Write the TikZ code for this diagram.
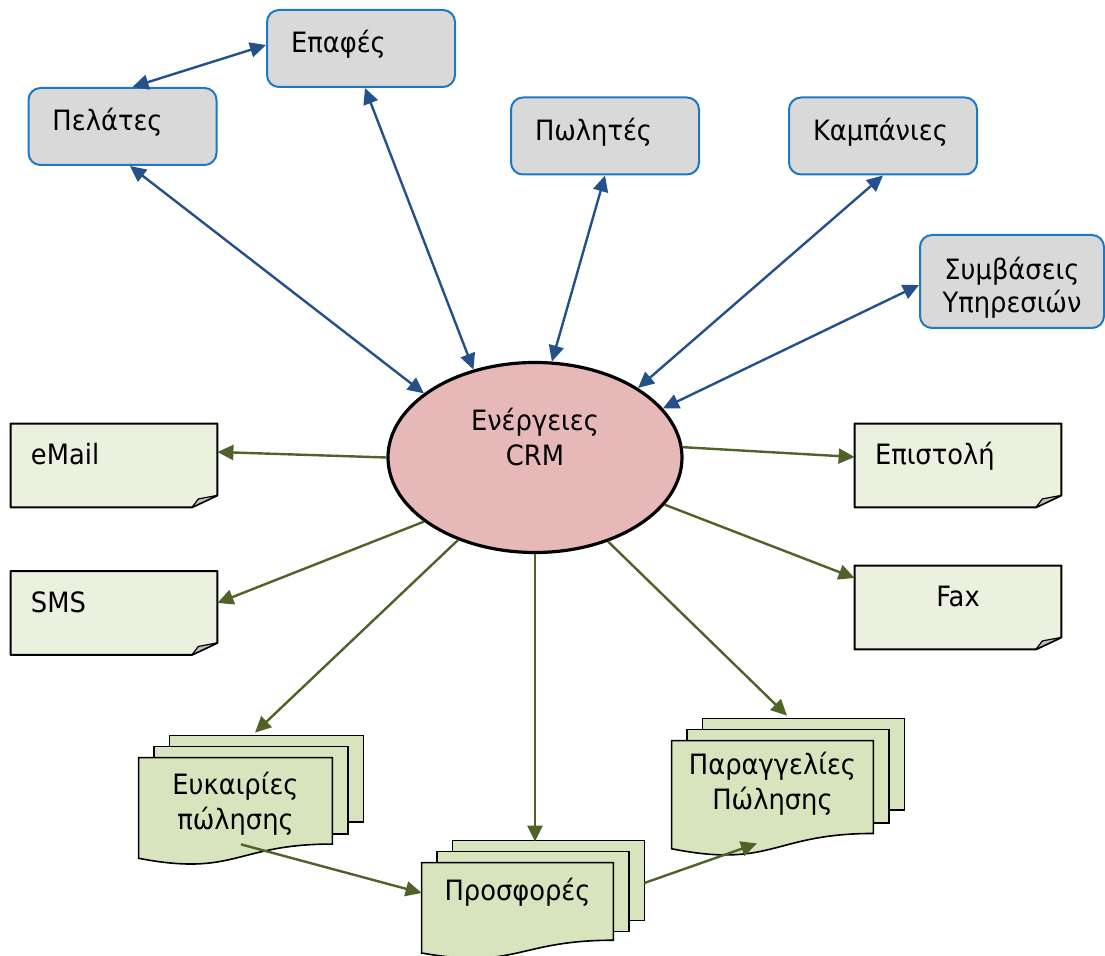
\documentclass[tikz,border=0pt]{standalone}
\usepackage{fontspec}
\setmainfont{DejaVu Sans}[FakeStretch=0.92]
\usepackage{xcolor}
\definecolor{boxgray}{HTML}{D9D9D9}
\definecolor{boxblue}{HTML}{1F78C4}
\definecolor{linkblue}{HTML}{24508C}
\definecolor{linkgreen}{HTML}{4F6228}
\definecolor{notegreen}{HTML}{EBF1DE}
\definecolor{stackgreen}{HTML}{D7E4BD}
\definecolor{crmpink}{HTML}{E6B9B8}
\definecolor{foldgray}{HTML}{C0C0C0}
\usetikzlibrary{arrows.meta,shapes.geometric,calc,backgrounds}
\newcommand{\crmfont}{\fontsize{14}{17.5}\selectfont}
\tikzset{
  topbox/.style={
    rectangle, rounded corners=6pt, draw=boxblue, line width=1pt,
    fill=boxgray, text width=70pt, inner xsep=12pt, inner ysep=0pt,
    minimum height=38.5pt, align=left, text height=11pt, text depth=6.5pt,
    font=\crmfont
  },
  notebox/.style={
    rectangle, inner xsep=10pt, inner ysep=0pt, text width=83pt,
    minimum height=41.5pt, align=left, text height=11pt, text depth=11.5pt,
    font=\crmfont
  },
  stackbox/.style={
    rectangle, inner sep=0pt, align=center, text height=11pt, font=\crmfont
  },
  crmnode/.style={
    ellipse, draw=black, line width=1.6pt, fill=crmpink,
    minimum width=147pt, minimum height=95pt, inner sep=0pt,
    align=center, text height=28.5pt, text depth=20pt, font=\crmfont
  },
  noteline/.style={draw=black, line width=1pt, line join=bevel, fill=notegreen},
  foldline/.style={draw=black, line width=0.6pt, line join=bevel, fill=foldgray},
  stackline/.style={draw=black, line width=0.8pt, fill=stackgreen},
  bluelink/.style={{Triangle[length=8pt,width=7.5pt]}-{Triangle[length=8pt,width=7.5pt]}, line width=1.2pt, draw=linkblue},
  greenlink/.style={-{Triangle[length=8pt,width=7.5pt]}, line width=1.2pt, draw=linkgreen}
}
% sheet with a folded corner
\newcommand{\notesheet}[1]{%
  \draw[noteline] (#1.north west) -- (#1.north east) -- ([yshift=6pt]#1.south east)
    -- ([xshift=-12.75pt]#1.south east) -- (#1.south west) -- cycle;
  \draw[foldline] ([xshift=-12.75pt]#1.south east) -- ([yshift=6pt]#1.south east)
    -- ([xshift=-9.5pt,yshift=4.25pt]#1.south east) -- cycle;
}
% three stacked sheets, wavy front
\newcommand{\stacksheet}[1]{%
  \draw[stackline] ($(#1.north west)+(15.5pt,11pt)$) rectangle ($(#1.south east)!0.4!(#1.north east)+(15.5pt,0pt)$);
  \draw[stackline] ($(#1.north west)+(7.75pt,5.5pt)$) rectangle ($(#1.south east)!0.29!(#1.north east)+(7.75pt,0pt)$);
  \draw[stackline] (#1.north west) -- (#1.north east) -- ($(#1.south east)!0.198!(#1.north east)$)
    .. controls ($(#1.south)!0.198!(#1.north)$) and ($(#1.south)!-0.1075!(#1.north)$)
    .. ($(#1.south west)!0.066!(#1.north west)$) -- cycle;
}

\begin{document}
\begin{tikzpicture}[x=0.5pt,y=-0.5pt]
  \useasboundingbox (0,0) rectangle (1105,956);

  % Center
  \node[crmnode] (crm) at (535,457.5) {Ενέργειες\\CRM};

  % Top boxes
  \node[topbox] (epa) at (361,48.5) {Επαφές};
  \node[topbox] (pel) at (122.5,126.5) {Πελάτες};
  \node[topbox] (pwl) at (605,136) {Πωλητές};
  \node[topbox] (kam) at (883,136) {Καμπάνιες};
  \node[topbox, text width=76pt, inner xsep=8pt, minimum height=46.5pt,
    align=center, text depth=12.5pt, font=\fontsize{14}{16.5}\selectfont]
    (sym) at (1012,281.5) {Συμβάσεις\\Υπηρεσιών};

  % Notes, left and right
  \node[notebox] (mail) at (114,465.5) {eMail};
  \node[notebox] (sms) at (114,613) {SMS};
  \node[notebox] (epi) at (958,465.5) {Επιστολή};
  \node[notebox, align=center] (fax) at (958,607.5) {Fax};

  % Stacked documents
  \node[stackbox, minimum width=96.5pt, minimum height=53.5pt,
    text height=28.5pt, text depth=10pt] (opp) at (235.5,811.5) {Ευκαιρίες\\πώλησης};
  \node[stackbox, minimum width=95.5pt, minimum height=48pt, text depth=21pt]
    (off) at (517.5,911) {Προσφορές};
  \node[stackbox, minimum width=100.5pt, minimum height=57.5pt,
    text height=28.5pt, text depth=17pt] (ord) at (772.5,798.5) {Παραγγελίες\\Πώλησης};

  \begin{scope}[on background layer]
    \notesheet{mail}
    \notesheet{sms}
    \notesheet{epi}
    \notesheet{fax}
    \stacksheet{opp}
    \stacksheet{off}
    \stacksheet{ord}
  \end{scope}

  % Blue links
  \draw[bluelink] ([xshift=5pt]pel.north) -- ([yshift=1.75pt]epa.west);
  \draw[bluelink] ([xshift=3.75pt]pel.south) -- (crm.150);
  \draw[bluelink] ([xshift=2pt]epa.south) -- (crm.125);
  \draw[bluelink] (pwl.south) -- (crm.80);
  \draw[bluelink] (kam.south) -- (crm.34);
  \draw[bluelink] ([yshift=-1.75pt]sym.west) -- (crm.21);

  % Green links
  \draw[greenlink] (crm.west) -- ([yshift=6.75pt]mail.east);
  \draw[greenlink] (crm.210) -- ([yshift=5pt]sms.east);
  \draw[greenlink] (crm.227) -- ([xshift=9.75pt,yshift=12.5pt]opp.north);
  \draw[greenlink] (crm.south) -- ([xshift=8.75pt,yshift=10.5pt]off.north);
  \draw[greenlink] (crm.311) -- ([xshift=7.25pt,yshift=12.5pt]ord.north);
  \draw[greenlink] (crm.4) -- ([yshift=4.25pt]epi.west);
  \draw[greenlink] (crm.340) -- ([yshift=14.75pt]fax.west);
  \draw[greenlink] ([xshift=2.75pt,yshift=10.5pt]opp.south) -- ([yshift=9pt]off.west);
  \draw[greenlink] ([xshift=15.5pt,yshift=14pt]off.east) -- ([xshift=-7.75pt,yshift=6.5pt]ord.south);

\end{tikzpicture}
\end{document}
